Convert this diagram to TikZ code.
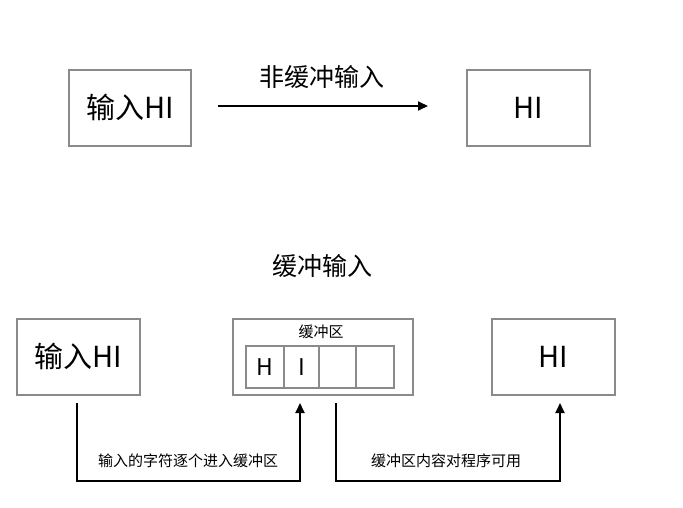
\documentclass[tikz,border=0pt]{standalone}
\usepackage{fontspec}
\setmainfont{Noto Sans CJK SC}
\usetikzlibrary{arrows.meta}
\definecolor{boxgray}{HTML}{8A8A8A}
\begin{document}
\begin{tikzpicture}[x=1pt,y=-1pt,
  box/.style={draw=boxgray,line width=1.8pt,inner sep=0pt,anchor=north west},
  conn/.style={line width=1.8pt,-{Triangle[length=10pt,width=9pt]}},
  big/.style={font=\fontsize{29}{32}\selectfont},
  mid/.style={font=\fontsize{25}{28}\selectfont},
  small/.style={font=\fontsize{15}{17}\selectfont}]
\useasboundingbox (0,0) rectangle (683,508);
% top row
\node[box,minimum width=122pt,minimum height=76pt] (a) at (68,69) {};
\node[big] at (a.center) {输入HI};
\node[box,minimum width=123pt,minimum height=76pt] (b) at (466,69) {};
\node[big] at (b.center) {HI};
\coordinate (s1) at (218,106);
\coordinate (e1) at (428,106);
\draw[conn] (s1) -- (e1);
\node[mid] (l1) at (322,77) {非缓冲输入};
% bottom
\node[mid] (t2) at (322,266) {缓冲输入};
\node[box,minimum width=123pt,minimum height=76pt] (c) at (16,318) {};
\node[big] at (c.center) {输入HI};
\node[box,minimum width=180pt,minimum height=76pt] (d) at (232,318) {};
\node[small] (dl) at (321,332) {缓冲区};
\node[box,minimum width=38pt,minimum height=42pt] (c1) at (245,345) {};
\node[box,minimum width=35pt,minimum height=42pt] (c2) at (283,345) {};
\node[box,minimum width=37pt,minimum height=42pt] (c3) at (318,345) {};
\node[box,minimum width=38pt,minimum height=42pt] (c4) at (355,345) {};
\node[font=\fontsize{23}{26}\selectfont] at (c1.center) {H};
\node[font=\fontsize{23}{26}\selectfont] at (c2.center) {I};
\node[box,minimum width=123pt,minimum height=76pt] (e) at (491,318) {};
\node[big] at (e.center) {HI};
% connectors
\coordinate (p1) at (77,403);
\coordinate (p2) at (300,403);
\coordinate (p3) at (336,403);
\coordinate (p4) at (560,403);
\draw[conn] (p1) -- (77,481) -- (300,481) -- (p2);
\draw[conn] (p3) -- (336,481) -- (560,481) -- (p4);
\node[small] (l2) at (188,461) {输入的字符逐个进入缓冲区};
\node[small] (l3) at (446,461) {缓冲区内容对程序可用};
\end{tikzpicture}
\end{document}
